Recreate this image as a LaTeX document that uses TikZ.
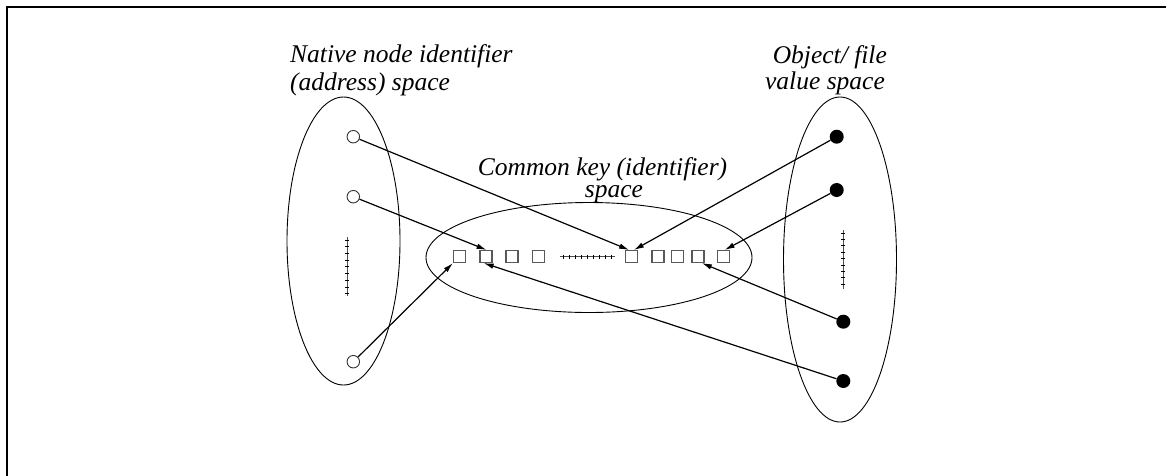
\documentclass[tikz,border=0pt]{standalone}
\usepackage{fontspec}
\setmainfont{Liberation Serif}
\usetikzlibrary{arrows.meta}
\begin{document}
\begin{tikzpicture}[x=1pt,y=-1pt,
  lbl/.style={font=\fontsize{25.5}{29}\selectfont\itshape, inner sep=0pt},
  opn/.style={circle, draw=black!80, line width=0.9pt, minimum size=12.5pt, inner sep=0pt},
  full/.style={circle, fill=black, minimum size=14pt, inner sep=0pt},
  key/.style={rectangle, draw=black!65, line width=1.1pt, minimum size=12pt, inner sep=0pt},
  link/.style={line width=1.2pt, -{Latex[length=10pt,width=5.5pt]}},
  region/.style={draw, line width=0.9pt},
  tickline/.style={draw=black!70, line width=1pt},
  tick/.style={draw=black, line width=0.8pt},
]
\useasboundingbox (0,0) rectangle (1166,475);
% frame (top and left edges)
\draw[line width=2.5pt] (1170,6.8) -- (7,6.8) -- (7,480);

% regions
\draw[region] (343.5,241) ellipse [x radius=56.5, y radius=144];
\draw[region] (840,259.5) ellipse [x radius=56.5, y radius=162.5];
\draw[region] (589,257.5) ellipse [x radius=163, y radius=55];

% labels
\node[lbl, anchor=base west] (n1) at (290,62.5) {Native node identifier};
\node[lbl, anchor=base west] (n2) at (290,90.5) {(address) space};
\node[lbl, anchor=base east] (o1) at (887,63.5) {Object/ file};
\node[lbl, anchor=base east] (o2) at (885,89) {value space};
\node[lbl, anchor=base, text depth=0pt] (k1) at (602.5,175) {Common key (identifier)};
\node[lbl, anchor=base, text height=1ex] (k2) at (614,197) {space};

% native node identifiers
\node[opn] (c1) at (353.3,136.7) {};
\node[opn] (c2) at (353.3,196.7) {};
\node[opn] (c3) at (353.3,361.7) {};

% object values
\node[full] (d1) at (836.7,136.7) {};
\node[full] (d2) at (836.7,190) {};
\node[full] (d3) at (843.3,321.7) {};
\node[full] (d4) at (843.3,381) {};

% keys
\foreach \i/\x in {1/459.5,2/486,3/512,4/538.5,5/631.5,6/658,7/677.5,8/698,9/723.5}
  \node[key] (s\i) at (\x,256.5) {};

% ellipsis lines
\draw[tickline] (347,237) -- (347,296);
\foreach \y in {240,246.7,...,295} \draw[tick] (345,\y) -- (349,\y);
\draw[tickline] (843.3,230) -- (843.3,288.5);
\foreach \y in {233,239.4,...,288} \draw[tick] (841.3,\y) -- (845.3,\y);
\draw[tickline] (560,256.7) -- (615,256.7);
\foreach \x in {563,569,...,614} \draw[tick] (\x,254.7) -- (\x,258.7);

% mappings
\draw[link] (c1) -- (s5.110);
\draw[link] (c2) -- (s2.85);
\draw[link] (c3) -- (s1.south west);
\draw[link] (d1) -- (s5.70);
\draw[link] (d2) -- (s9.80);
\draw[link] (d3) -- (s8.300);
\draw[link] (d4) -- (s2.250);
\end{tikzpicture}
\end{document}
